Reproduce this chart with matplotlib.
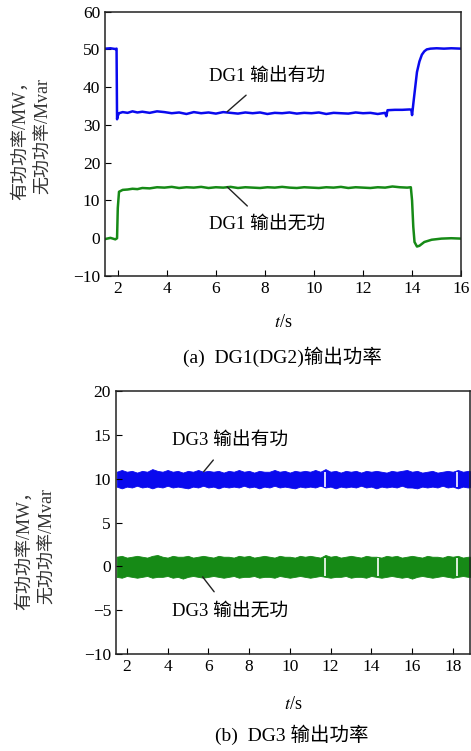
import matplotlib
matplotlib.use("Agg")
import matplotlib.pyplot as plt

plt.rcParams['font.family'] = ['Liberation Serif', 'Noto Sans CJK SC']
plt.rcParams['mathtext.fontset'] = 'stix'

# DG1 active power (MW)
p1_t = [1.5, 1.7, 1.9, 1.95, 1.97, 2.0, 2.05, 2.2, 2.4, 2.6, 2.8, 3.0, 3.3, 3.6, 3.9, 4.2,
        4.5, 4.8, 5.1, 5.4, 5.7, 6.0, 6.3, 6.6, 6.9, 7.2, 7.5, 7.8, 8.1, 8.4, 8.7, 9.0,
        9.3, 9.6, 9.9, 10.2, 10.5, 10.8, 11.1, 11.4, 11.7, 12.0, 12.3, 12.6, 12.9, 12.95,
        13.0, 13.3, 13.6, 13.9, 13.97, 14.0, 14.07, 14.2, 14.3, 14.4, 14.5, 14.6, 14.75,
        15.0, 15.3, 15.6, 16.0]
p1_v = [50.2, 50.3, 50.1, 50.2, 31.5, 32.4, 33.1, 33.4, 33.2, 33.6, 33.3, 33.5, 33.2, 33.6,
        33.4, 33.1, 33.3, 32.9, 33.4, 33.1, 33.3, 33.0, 33.4, 33.2, 33.0, 33.3, 33.1, 33.3,
        32.9, 33.2, 33.1, 33.3, 33.0, 33.2, 33.1, 33.3, 32.9, 33.2, 33.1, 33.0, 33.3, 33.1,
        33.2, 32.9, 33.2, 32.3, 33.9, 34.0, 34.0, 34.1, 34.0, 32.6, 36.7, 44.0, 46.8, 48.6,
        49.5, 50.0, 50.2, 50.3, 50.2, 50.3, 50.2]

# DG1 reactive power (Mvar)
q1_t = [1.5, 1.7, 1.9, 1.97, 2.0, 2.05, 2.2, 2.4, 2.6, 2.8, 3.0, 3.3, 3.6, 3.9, 4.2, 4.5,
        4.8, 5.1, 5.4, 5.7, 6.0, 6.3, 6.6, 6.9, 7.2, 7.5, 7.8, 8.1, 8.4, 8.7, 9.0, 9.3,
        9.6, 9.9, 10.2, 10.5, 10.8, 11.1, 11.4, 11.7, 12.0, 12.3, 12.6, 12.9, 13.2, 13.5,
        13.8, 13.95, 14.0, 14.05, 14.1, 14.2, 14.3, 14.5, 14.8, 15.2, 15.6, 16.0]
q1_v = [-0.2, 0.1, -0.3, 0.0, 8.0, 12.3, 12.8, 12.9, 13.1, 13.0, 13.3, 13.2, 13.5, 13.4,
        13.6, 13.3, 13.5, 13.4, 13.6, 13.3, 13.5, 13.4, 13.6, 13.3, 13.5, 13.4, 13.3, 13.5,
        13.4, 13.6, 13.4, 13.3, 13.5, 13.4, 13.3, 13.5, 13.4, 13.6, 13.3, 13.5, 13.4, 13.3,
        13.5, 13.4, 13.7, 13.5, 13.4, 13.5, 10.0, 3.0, -1.0, -2.2, -2.0, -1.0, -0.4, -0.1,
        0.0, -0.1]

# DG3 output band envelopes (upper / lower), MW and Mvar
b_t = [1.5, 1.75, 2.0, 2.25, 2.5, 2.75, 3.0, 3.25, 3.5, 3.75, 4.0, 4.25, 4.5, 4.75, 5.0,
       5.25, 5.5, 5.75, 6.0, 6.25, 6.5, 6.75, 7.0, 7.25, 7.5, 7.75, 8.0, 8.25, 8.5, 8.75,
       9.0, 9.25, 9.5, 9.75, 10.0, 10.25, 10.5, 10.75, 11.0, 11.25, 11.5, 11.75, 12.0,
       12.25, 12.5, 12.75, 13.0, 13.25, 13.5, 13.75, 14.0, 14.25, 14.5, 14.75, 15.0, 15.25,
       15.5, 15.75, 16.0, 16.25, 16.5, 16.75, 17.0, 17.25, 17.5, 17.75, 18.0, 18.25, 18.5,
       18.75, 19.0]
p3_hi = [10.8, 11.0, 10.8, 10.9, 10.7, 10.9, 10.8, 11.1, 10.9, 10.8, 11.0, 10.8, 10.9, 10.7,
         10.9, 10.8, 11.0, 10.8, 10.9, 10.8, 10.9, 10.7, 10.9, 10.8, 11.0, 10.8, 10.9, 10.7,
         10.9, 10.8, 10.8, 11.0, 10.8, 10.9, 10.7, 10.9, 10.8, 10.9, 10.8, 11.0, 10.8, 11.1,
         10.8, 10.9, 10.7, 10.9, 10.8, 10.9, 10.7, 10.9, 10.8, 10.9, 10.8, 10.7, 10.9, 10.8,
         10.9, 11.0, 10.8, 10.9, 10.7, 10.8, 10.9, 10.7, 10.8, 10.9, 10.8, 11.0, 10.8, 10.9,
         10.8]
p3_lo = [9.1, 8.9, 9.1, 9.0, 9.2, 9.0, 9.1, 8.9, 9.1, 9.0, 9.2, 9.0, 9.1, 9.0, 8.9, 9.1,
         9.0, 9.2, 9.0, 9.1, 8.9, 9.1, 9.0, 9.1, 9.0, 9.2, 9.0, 9.1, 8.9, 9.1, 9.0, 9.2,
         9.0, 9.1, 9.0, 8.9, 9.1, 9.0, 9.1, 9.0, 9.2, 9.0, 9.1, 8.9, 9.1, 9.0, 9.1, 9.0,
         9.2, 9.0, 9.1, 8.9, 9.1, 9.0, 9.1, 9.0, 9.2, 9.0, 9.0, 8.9, 9.1, 9.0, 9.1, 9.0,
         9.2, 9.0, 9.1, 8.9, 9.1, 9.0, 9.1]
q3_hi = [1.1, 1.2, 1.0, 1.1, 1.2, 1.1, 1.0, 1.2, 1.3, 1.1, 1.0, 1.2, 1.1, 1.1, 1.2, 1.0,
         1.1, 1.2, 1.1, 1.0, 1.2, 1.1, 1.1, 1.0, 1.2, 1.1, 1.2, 1.0, 1.1, 1.2, 1.1, 1.0,
         1.2, 1.1, 1.1, 1.0, 1.2, 1.1, 1.2, 1.1, 1.0, 1.3, 1.1, 1.2, 1.0, 1.1, 1.2, 1.1,
         1.0, 1.2, 1.1, 1.1, 1.0, 1.2, 1.1, 1.2, 1.0, 1.1, 1.2, 1.1, 1.0, 1.2, 1.1, 1.1,
         1.0, 1.2, 1.1, 1.2, 1.0, 1.1, 1.1]
q3_lo = [-1.2, -1.3, -1.1, -1.2, -1.3, -1.2, -1.1, -1.3, -1.2, -1.2, -1.1, -1.3, -1.2,
         -1.4, -1.2, -1.1, -1.2, -1.3, -1.2, -1.1, -1.2, -1.3, -1.2, -1.1, -1.3, -1.2,
         -1.2, -1.1, -1.3, -1.2, -1.2, -1.3, -1.1, -1.2, -1.3, -1.2, -1.1, -1.2, -1.3,
         -1.2, -1.1, -1.2, -1.3, -1.2, -1.2, -1.1, -1.3, -1.2, -1.2, -1.3, -1.1, -1.2,
         -1.3, -1.2, -1.1, -1.2, -1.3, -1.2, -1.4, -1.2, -1.1, -1.2, -1.3, -1.2, -1.1,
         -1.2, -1.3, -1.2, -1.1, -1.2, -1.2]
p3_gaps = [11.72, 18.22]
q3_gaps = [11.72, 14.35, 18.22]

blue = '#0a0aee'
green = '#168a16'
fs = 12.5

fig = plt.figure(figsize=(4.71, 7.51), dpi=100)

def style(ax, pad, ypos):
    ax.tick_params(direction='in', top=False, right=False, labelsize=fs, length=4)
    for s in ax.spines.values():
        s.set_linewidth(1.1)
        s.set_color('#222222')
    ax.set_ylabel('有功功率/MW，\n无功功率/Mvar', fontsize=13, color='#333333',
                  labelpad=pad, linespacing=1.45)
    ax.yaxis.label.set_y(ypos)

# (a) DG1
ax1 = fig.add_axes([0.223, 0.6325, 0.756, 0.352])
ax1.plot(p1_t, p1_v, color=blue, lw=1.8)
ax1.plot(q1_t, q1_v, color=green, lw=1.8)
ax1.set_xlim(1.48, 16)
ax1.set_ylim(-10, 60)
ax1.set_xticks(range(2, 17, 2))
ax1.set_yticks(range(-10, 61, 10))
ax1.set_yticklabels(['\u221210'] + [str(v) for v in range(0, 61, 10)])
style(ax1, 15, 0.53)
ax1.set_xlabel('$t$/s', fontsize=13, labelpad=12)
ax1.annotate('DG1 输出有功', xy=(6.46, 33.5), xytext=(8.1, 42.8), fontsize=13.5,
             ha='center', va='center',
             arrowprops=dict(arrowstyle='-', color='#222222', lw=1, shrinkA=8, shrinkB=0))
ax1.annotate('DG1 输出无功', xy=(6.46, 13.6), xytext=(8.1, 3.5), fontsize=13.5,
             ha='center', va='center',
             arrowprops=dict(arrowstyle='-', color='#222222', lw=1, shrinkA=8, shrinkB=0))
fig.text(0.6, 0.525, '(a)  DG1(DG2)输出功率', fontsize=14, ha='center', va='center')

# (b) DG3
ax2 = fig.add_axes([0.246, 0.1292, 0.752, 0.350])
ax2.fill_between(b_t, p3_lo, p3_hi, color=blue, lw=0.6, edgecolor=blue)
ax2.fill_between(b_t, q3_lo, q3_hi, color=green, lw=0.6, edgecolor=green)
ax2.vlines(p3_gaps, 9.1, 10.8, color='white', lw=1.2)
ax2.vlines(q3_gaps, -1.1, 1.0, color='white', lw=1.2)
ax2.set_xlim(1.46, 18.85)
ax2.set_ylim(-10, 20)
ax2.set_xticks(range(2, 19, 2))
ax2.set_yticks(range(-10, 21, 5))
ax2.set_yticklabels(['\u221210', '\u22125'] + [str(v) for v in range(0, 21, 5)])
style(ax2, 20, 0.41)
ax2.set_xlabel('$t$/s', fontsize=13, labelpad=15)
ax2.annotate('DG3 输出有功', xy=(5.77, 10.8), xytext=(7.05, 14.4), fontsize=13.5,
             ha='center', va='center',
             arrowprops=dict(arrowstyle='-', color='#222222', lw=1, shrinkA=8, shrinkB=0))
ax2.annotate('DG3 输出无功', xy=(5.72, -1.2), xytext=(7.05, -5.2), fontsize=13.5,
             ha='center', va='center',
             arrowprops=dict(arrowstyle='-', color='#222222', lw=1, shrinkA=8, shrinkB=0))
fig.text(0.62, 0.021, '(b)  DG3 输出功率', fontsize=14, ha='center', va='center')

fig.savefig('out.png', dpi=100)
